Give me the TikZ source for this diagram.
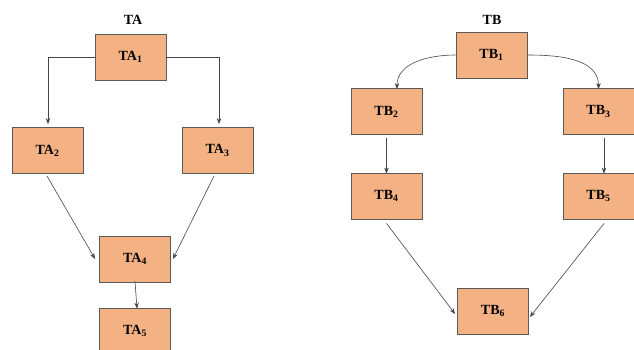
\documentclass[tikz,border=0pt]{standalone}
\usepackage{fontspec}
\setmainfont{Liberation Serif}
\usetikzlibrary{arrows.meta}
\definecolor{boxfill}{RGB}{244,177,131}
\definecolor{boxline}{RGB}{90,90,90}
\definecolor{linkcol}{RGB}{70,70,70}
\tikzset{
  box/.style={draw=boxline, line width=0.8pt, fill=boxfill, minimum width=71pt, minimum height=46pt, inner sep=0pt, font=\bfseries\fontsize{14}{16}\selectfont},
  title/.style={font=\bfseries\fontsize{14}{16}\selectfont},
  link/.style={draw=linkcol, line width=0.6pt, -{Stealth[length=6pt,width=4.5pt]}}
}
\begin{document}
\begin{tikzpicture}[x=1pt,y=-1pt]
\useasboundingbox (0,0) rectangle (634,350);
\fill[white] (0,0) rectangle (634,350);
% TA
\node[title] (ta) at (133,20) {TA};
\node[box] (ta1) at (130.5,57) {TA\textsubscript{1}};
\node[box] (ta2) at (47.5,150.5) {TA\textsubscript{2}};
\node[box] (ta3) at (217.5,150.5) {TA\textsubscript{3}};
\node[box] (ta4) at (135,259) {TA\textsubscript{4}};
\node[box] (ta5) at (135,331) {TA\textsubscript{5}};
\draw[link] (ta1.west) -| ([xshift=0.5pt,yshift=3pt]ta2.north);
\draw[link] (ta1.east) -| ([xshift=1.5pt,yshift=3pt]ta3.north);
\coordinate (a2s) at (47,176);
\coordinate (a3s) at (214,176);
\draw[link] (a2s) -- ([xshift=-4pt]ta4.west);
\draw[link] (a3s) -- ([xshift=2pt]ta4.east);
\draw[link] ([yshift=1pt]ta4.south) -- ([xshift=2pt,yshift=-1pt]ta5.north);
% TB
\node[title] (tb) at (492,20) {TB};
\node[box] (tb1) at (491.5,55) {TB\textsubscript{1}};
\node[box] (tb2) at (386.5,111.5) {TB\textsubscript{2}};
\node[box] (tb3) at (598.5,111.5) {TB\textsubscript{3}};
\node[box] (tb4) at (386.5,196) {TB\textsubscript{4}};
\node[box] (tb5) at (598.5,196) {TB\textsubscript{5}};
\node[box] (tb6) at (493,311) {TB\textsubscript{6}};
\draw[link] (tb1.west) to[out=180,in=90] ([xshift=10.5pt,yshift=-1pt]tb2.north);
\draw[link] (tb1.east) to[out=0,in=90] ([xshift=0pt,yshift=-1pt]tb3.north);
\draw[link] ([yshift=-3pt]tb2.south) -- ([yshift=-1pt]tb4.north);
\draw[link] ([xshift=5.5pt,yshift=-3pt]tb3.south) -- ([xshift=5.5pt,yshift=-1pt]tb5.north);
\draw[link] ([yshift=-4pt]tb4.south) -- ([xshift=-2pt,yshift=-3pt]tb6.west);
\draw[link] ([xshift=5.5pt,yshift=-4pt]tb5.south) -- ([xshift=1pt,yshift=-6pt]tb6.east);
\end{tikzpicture}
\end{document}
